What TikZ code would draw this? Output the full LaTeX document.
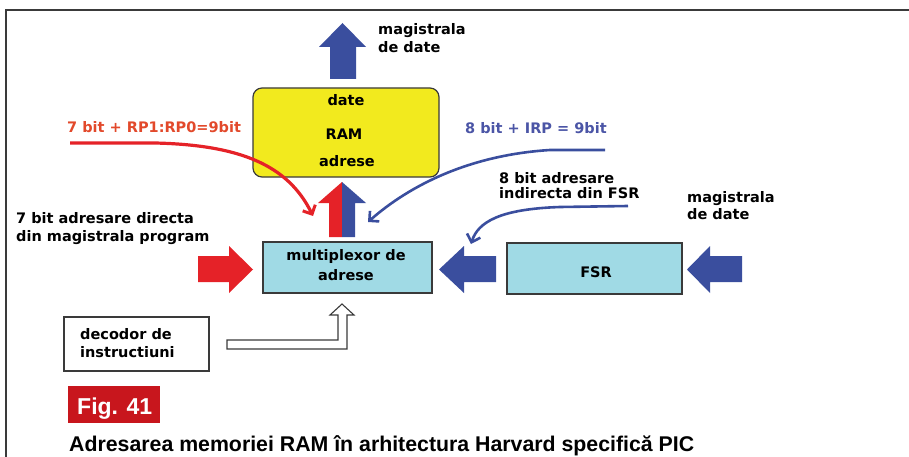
\documentclass[tikz,border=0pt]{standalone}
\usepackage{fontspec}
\setmainfont{DejaVu Sans}
\newfontfamily\capfont{Liberation Sans}
\usetikzlibrary{arrows.meta}
\definecolor{ramyellow}{HTML}{F2EA1E}
\definecolor{boxcyan}{HTML}{A0DAE5}
\definecolor{arrblue}{HTML}{3A4E9E}
\definecolor{arrred}{HTML}{E52228}
\definecolor{txtred}{HTML}{E2492B}
\definecolor{txtblue}{HTML}{4B55A6}
\definecolor{figred}{HTML}{C8161D}
\definecolor{edge}{HTML}{3A3A3A}
\tikzset{
  lbl/.style={inner sep=0pt, anchor=base west, font=\fontsize{14.5}{18}\selectfont\bfseries},
  clbl/.style={inner sep=0pt, anchor=base, font=\fontsize{14.5}{18}\selectfont\bfseries},
  boxstyle/.style={draw=edge, line width=1.2pt},
  redcurve/.style={draw=arrred, line width=3.2pt, -{Straight Barb[length=7pt,width=14pt,line width=3pt]}},
  bluecurve/.style={draw=arrblue, line width=2.6pt, -{Straight Barb[length=7pt,width=14pt,line width=2.6pt]}},
}
\begin{document}
\begin{tikzpicture}[x=1pt,y=-1pt]
\useasboundingbox (0,0) rectangle (909,457);
% frame
\draw[edge, line width=1.4pt] (909,10) -- (6,10) -- (6,457);

% boxes
\draw[boxstyle, fill=ramyellow, rounded corners=9pt] (253,88) rectangle (439,177);
\node (ram) at (346,132) {};
\draw[boxstyle, fill=boxcyan] (263,242) rectangle (432,293);
\node (mux) at (347,267) {};
\draw[boxstyle, fill=boxcyan] (507,243) rectangle (682,294);
\node (fsr) at (594,268) {};
\draw[boxstyle, fill=white] (64,317) rectangle (209,371);
\node (dec) at (136,344) {};

% texts
\node[lbl] (t1) at (378,35) {magistrala};
\node[lbl] (t2) at (378,53) {de date};
\node[clbl] (t3) at (346,106) {date};
\node[clbl] (t4) at (344,140) {RAM};
\node[clbl] (t5) at (347,167) {adrese};
\node[lbl, text=txtred] (t6) at (67,133) {7 bit + RP1:RP0=9bit};
\node[lbl, text=txtblue] (t7) at (465,134) {8 bit + IRP = 9bit};
\node[lbl] (t8) at (499,183) {8 bit adresare};
\node[lbl] (t9) at (499,198) {indirecta din FSR};
\node[lbl] (t10) at (687,202) {magistrala};
\node[lbl] (t11) at (687,219) {de date};
\node[lbl] (t12) at (16,223) {7 bit adresare directa};
\node[lbl] (t13) at (16,241) {din magistrala program};
\node[clbl] (t14) at (346,260) {multiplexor de};
\node[clbl] (t15) at (346,280) {adrese};
\node[clbl] (t16) at (596,277) {FSR};
\node[lbl] (t17) at (80,339) {decodor de};
\node[lbl] (t18) at (80,357) {instructiuni};

% top data bus arrow
\fill[arrblue] (330,79) -- (330,47) -- (319,47) -- (342.5,23) -- (366,47) -- (356,47) -- (356,79) -- cycle;

% middle split arrow
\fill[arrred] (329,237) -- (329,203) -- (318,203) -- (342,182) -- (342,237) -- cycle;
\fill[arrblue] (342,237) -- (342,182) -- (366,203) -- (355,203) -- (355,237) -- cycle;

% red block arrow into mux
\fill[arrred] (198,256) -- (229,256) -- (229,246) -- (253,269.5) -- (229,293) -- (229,282) -- (198,282) -- cycle;
% blue block arrow FSR -> mux
\fill[arrblue] (496,256) -- (464,256) -- (464,246) -- (439,269.5) -- (464,293) -- (464,282) -- (496,282) -- cycle;
% blue block arrow bus -> FSR
\fill[arrblue] (742,256) -- (710,256) -- (710,246) -- (687,269.5) -- (710,293) -- (710,282) -- (742,282) -- cycle;

% hollow arrow from decoder
\draw[edge, line width=1.1pt, fill=white] (227,340) -- (338,340) -- (338,315) -- (330,315) -- (342,304) -- (354,315) -- (347,315) -- (347,349) -- (227,349) -- cycle;

% curves
\coordinate (rs) at (70,143);
\coordinate (rt) at (313,216);
\draw[redcurve] (rs) -- (155,143) .. controls (240,145) and (288,165) .. (rt);
\coordinate (bs) at (605,150);
\coordinate (bt) at (368,222);
\draw[bluecurve] (bs) -- (550,150) .. controls (470,155) and (410,185) .. (bt);
\coordinate (cs) at (628,206);
\coordinate (ct) at (471,244);
\draw[bluecurve] (cs) -- (560,207) .. controls (500,209) and (478,222) .. (ct);

% figure label
\fill[figred] (68,386) rectangle (160,423);
\node[inner sep=0pt, anchor=base west, text=white, font=\capfont\fontsize{23}{26}\selectfont\bfseries] (fig) at (77,414) {Fig. 41};
\node[inner sep=0pt, anchor=base west, font=\capfont\fontsize{21.3}{24}\selectfont\bfseries] (cap) at (69,451) {Adresarea memoriei RAM în arhitectura Harvard specifică PIC};
\end{tikzpicture}
\end{document}
